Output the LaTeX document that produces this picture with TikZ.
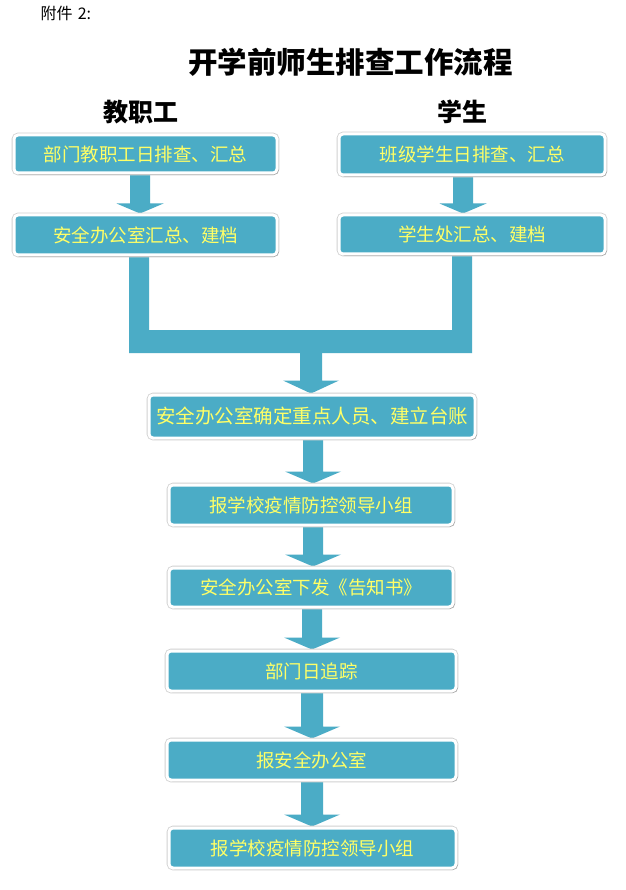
\documentclass[tikz,border=0pt]{standalone}
\usepackage{fontspec}
\newfontfamily\cjk{Noto Sans CJK SC}
\usetikzlibrary{shadows,backgrounds,calc}
\definecolor{boxblue}{HTML}{4BACC6}
\definecolor{txtyellow}{RGB}{255,255,102}
\tikzset{
  flowbox/.style={rectangle, rounded corners=4pt, fill=boxblue, draw=white, line width=3pt,
    preaction={draw=black!18, line width=4.6pt},
    drop shadow={shadow xshift=1.6pt, shadow yshift=-1.6pt, fill=black, opacity=0.28},
    text=txtyellow, font=\cjk\fontsize{18.5}{18.5}\selectfont, inner sep=0pt},
  blockarrow/.style={fill=boxblue},
  headlabel/.style={font=\cjk\bfseries\fontsize{25}{25}\selectfont, text=black},
}
\newcommand\blockarr[6]{%
  \fill[blockarrow] let \p1=(#2), \p2=(#3) in
    (#1pt-#4pt,\y1) -- (#1pt+#4pt,\y1) -- (#1pt+#4pt,\y2+#6pt) -- (#1pt+#5pt,\y2+#6pt)
    -- (#1pt,\y2) -- (#1pt-#5pt,\y2+#6pt) -- (#1pt-#4pt,\y2+#6pt) -- cycle;}
\begin{document}
\begin{tikzpicture}[x=1pt,y=1pt]
\useasboundingbox (0,0) rectangle (625,-890);

\node[anchor=west, font=\cjk\fontsize{16}{16}\selectfont] (att) at (37,-13) {附件\,\,2:};
\node[font=\cjk\bfseries\fontsize{29.5}{29.5}\selectfont] (title) at (350.5,-62.5) {开学前师生排查工作流程};
\node[headlabel] (hstaff) at (141,-112) {教职工};
\node[headlabel] (hstud) at (462,-112) {学生};

\node[flowbox, minimum width=263pt, minimum height=38pt] (L1) at (145.5,-154) {部门教职工日排查、汇总};
\node[flowbox, minimum width=263pt, minimum height=40pt] (L2) at (145.5,-235) {安全办公室汇总、建档};
\node[flowbox, minimum width=266pt, minimum height=41pt] (R1) at (472,-154.5) {班级学生日排查、汇总};
\node[flowbox, minimum width=266pt, minimum height=39pt] (R2) at (472,-234.5) {学生处汇总、建档};

\node[flowbox, minimum width=326pt, minimum height=43pt, font=\cjk\fontsize{19.5}{19.5}\selectfont] (C1) at (312,-416.5) {安全办公室确定重点人员、建立台账};
\node[flowbox, minimum width=284pt, minimum height=40pt] (C2) at (311,-505) {报学校疫情防控领导小组};
\node[flowbox, minimum width=284pt, minimum height=39pt] (C3) at (311,-587.5) {安全办公室下发《告知书》};
\node[flowbox, minimum width=289pt, minimum height=40pt] (C4) at (311.5,-671) {部门日追踪};
\node[flowbox, minimum width=289pt, minimum height=40pt] (C5) at (311.5,-760) {报安全办公室};
\node[flowbox, minimum width=287pt, minimum height=40pt] (C6) at (312.5,-848) {报学校疫情防控领导小组};

\coordinate (brk) at (311,-353);

\begin{scope}[on background layer]
  \fill[white] (0,0) rectangle (625,-890);
  \fill[blockarrow] (129,-240) -- (149,-240) -- (149,-330) -- (452,-330) -- (452,-240)
    -- (472,-240) -- (472,-353) -- (129,-353) -- cycle;
  \blockarr{140}{L1.south}{L2.north}{10}{23.5}{10}
  \blockarr{463}{R1.south}{R2.north}{10}{23.5}{10}
  \blockarr{311}{brk}{C1.north}{11}{28}{13}
  \blockarr{313}{C1.south}{C2.north}{10}{28}{12}
  \blockarr{313}{C2.south}{C3.north}{10}{28}{12}
  \blockarr{312}{C3.south}{C4.north}{10}{28}{12}
  \blockarr{312}{C4.south}{C5.north}{11}{28}{12}
  \blockarr{312}{C5.south}{C6.north}{11}{28}{12}
\end{scope}
\end{tikzpicture}
\end{document}
